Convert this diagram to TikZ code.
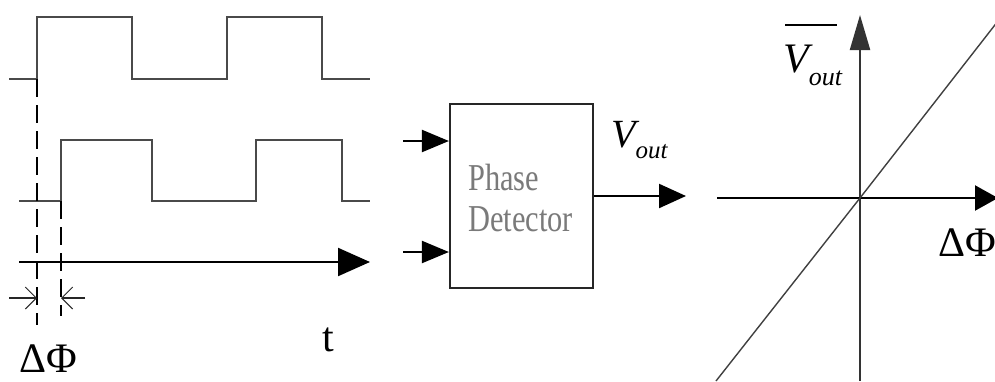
\documentclass[tikz,border=0pt]{standalone}
\usepackage{fontspec}
\setmainfont{Liberation Serif}
\usetikzlibrary{arrows.meta,calc}
\definecolor{wave}{HTML}{4A4A4A}
\definecolor{pdtext}{HTML}{7A7A7A}
\begin{document}
\begin{tikzpicture}[x=1pt,y=-1pt,
  wavestyle/.style={draw=wave,line width=2.8pt,line join=miter},
  dashstyle/.style={draw=black,line width=1.6pt,dash pattern=on 18pt off 8pt},
  dimarrow/.style={draw=black!85,line width=1.4pt,-{Straight Barb[length=11pt,width=22pt,line width=1pt]}},
  axis/.style={draw=black,line width=2.2pt},
  lbl/.style={inner sep=0pt,font=\fontsize{42}{42}\selectfont}
]
\useasboundingbox (0,0) rectangle (995,381);
\clip (0,0) rectangle (995,381);
\fill[white] (0,0) rectangle (995,381);

% waveforms
\draw[wavestyle] (9,79) -- (37,79) -- (37,17) -- (132,17) -- (132,79) -- (227,79) -- (227,17) -- (322,17) -- (322,79) -- (370,79);
\draw[wavestyle] (19,201) -- (61,201) -- (61,140) -- (152,140) -- (152,201) -- (256,201) -- (256,140) -- (342,140) -- (342,201) -- (370,201);

% time axis
\coordinate (t0) at (19,262);
\coordinate (t1) at (370,262);
\draw[axis,-{Triangle[length=32pt,width=28pt]}] (t0) -- (t1);

% dashed markers
\coordinate (d1a) at (37,79);
\coordinate (d1b) at (37,325);
\coordinate (d2a) at (61,201);
\coordinate (d2b) at (61,316);
\draw[dashstyle] (d1a) -- (d1b);
\draw[dashstyle] (d2a) -- (d2b);

% delta phi dimension arrows
\coordinate (dl0) at (9,298);
\coordinate (dl1) at (37,298);
\coordinate (dr0) at (85,298);
\coordinate (dr1) at (61,298);
\draw[dimarrow] (dl0) -- (dl1);
\draw[dimarrow] (dr0) -- (dr1);

\node[lbl] (dphiL) at (48,359) {ΔΦ};
\node[lbl] (tlabel) at (328,340) {t};

% phase detector
\node[draw=black!85,line width=2.2pt,minimum width=143pt,minimum height=184pt,inner sep=0pt] (pd) at (521.5,196) {};
\node[align=left,text=pdtext,inner sep=0pt,font=\fontsize{38}{41}\selectfont] (pdt) at (520.5,198) {\scalebox{0.8}[1]{Phase}\\\scalebox{0.8}[1]{Detector}};
\coordinate (in1) at (403,141);
\coordinate (in2) at (403,252);
\draw[axis,-{Triangle[length=27pt,width=22pt]}] (in1) -- (in1 -| pd.west);
\draw[axis,-{Triangle[length=27pt,width=22pt]}] (in2) -- (in2 -| pd.west);
\coordinate (outp) at (686,196);
\draw[axis,-{Triangle[length=27pt,width=24pt]}] (pd.east) -- (outp);
\node[inner sep=0pt,anchor=base west] (voutlbl) at (611,147) {{\fontsize{40}{40}\selectfont\itshape V}\raisebox{-11pt}{\fontsize{25}{25}\selectfont\itshape out}};

% transfer graph
\coordinate (O) at (860,198);
\coordinate (ybot) at (860,381);
\coordinate (ytop) at (860,15);
\coordinate (xl) at (717,198);
\coordinate (xr) at (998,198);
\draw[axis,draw=black!80,-{Triangle[length=35pt,width=20pt]}] (ybot) -- (ytop);
\draw[axis,-{Triangle[length=23pt,width=25pt]}] (xl) -- (xr);
\coordinate (dg0) at (716,381);
\coordinate (dg1) at (998,21);
\draw[draw=black!75,line width=1.4pt] (dg0) -- (O) -- (dg1);

\node[inner sep=0pt,anchor=base west] (vbar) at (783,72) {{\fontsize{42}{42}\selectfont\itshape V}\raisebox{-13pt}{\fontsize{26}{26}\selectfont\itshape out}};
\draw[black,line width=1.8pt] (785,25) -- (837,25);
\node[lbl] (dphiR) at (967,243) {ΔΦ};
\end{tikzpicture}
\end{document}
